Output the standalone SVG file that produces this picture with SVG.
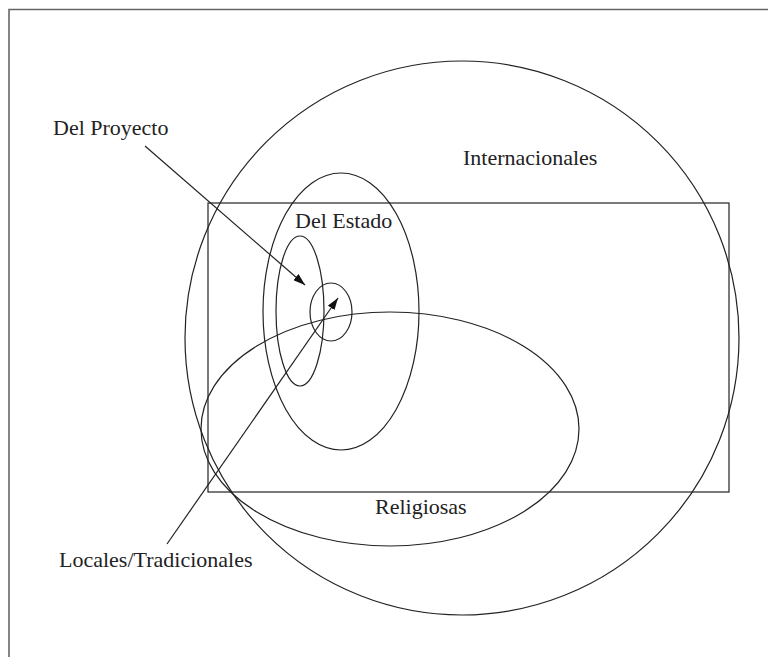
<svg xmlns="http://www.w3.org/2000/svg" width="768" height="657" viewBox="0 0 768 657">
<defs>
<marker id="ah" viewBox="0 0 12 8" refX="12" refY="4" markerWidth="12" markerHeight="8" markerUnits="userSpaceOnUse" orient="auto">
<path d="M0,0 L12,4 L0,8 Z" fill="#111"/>
</marker>
</defs>
<style>
.s{fill:none;stroke:#222;stroke-width:1.2}
.t{font-family:"Liberation Serif","Times New Roman",serif;font-size:22px;fill:#222}
.c{fill:none;stroke:#222;stroke-width:1.2;marker-end:url(#ah)}
</style>
<rect width="768" height="657" fill="#fff"/>
<path d="M9,657 V9.5 H768" fill="none" stroke="#666" stroke-width="1.6"/>
<g id="internacionales">
<circle class="s" cx="462" cy="338" r="277"/>
<text class="t" x="463" y="165">Internacionales</text>
</g>
<g id="marco">
<rect class="s" x="208" y="203" width="521" height="289"/>
</g>
<g id="del-estado">
<ellipse class="s" cx="341" cy="311.5" rx="78" ry="138.5"/>
<text class="t" x="295" y="228">Del Estado</text>
</g>
<g id="izquierda">
<ellipse class="s" cx="300" cy="311" rx="24" ry="75"/>
</g>
<g id="centro">
<ellipse class="s" cx="331" cy="312" rx="21" ry="29"/>
</g>
<g id="religiosas">
<ellipse class="s" cx="390" cy="429" rx="189" ry="117"/>
<text class="t" x="375" y="514">Religiosas</text>
</g>
<g id="del-proyecto">
<text class="t" x="53" y="135">Del Proyecto</text>
</g>
<g id="locales">
<text class="t" x="59" y="567">Locales/Tradicionales</text>
</g>
<g id="connectors">
<line class="c" x1="145" y1="146" x2="305" y2="285"/>
<line class="c" x1="167" y1="544" x2="338" y2="298"/>
</g>
</svg>
